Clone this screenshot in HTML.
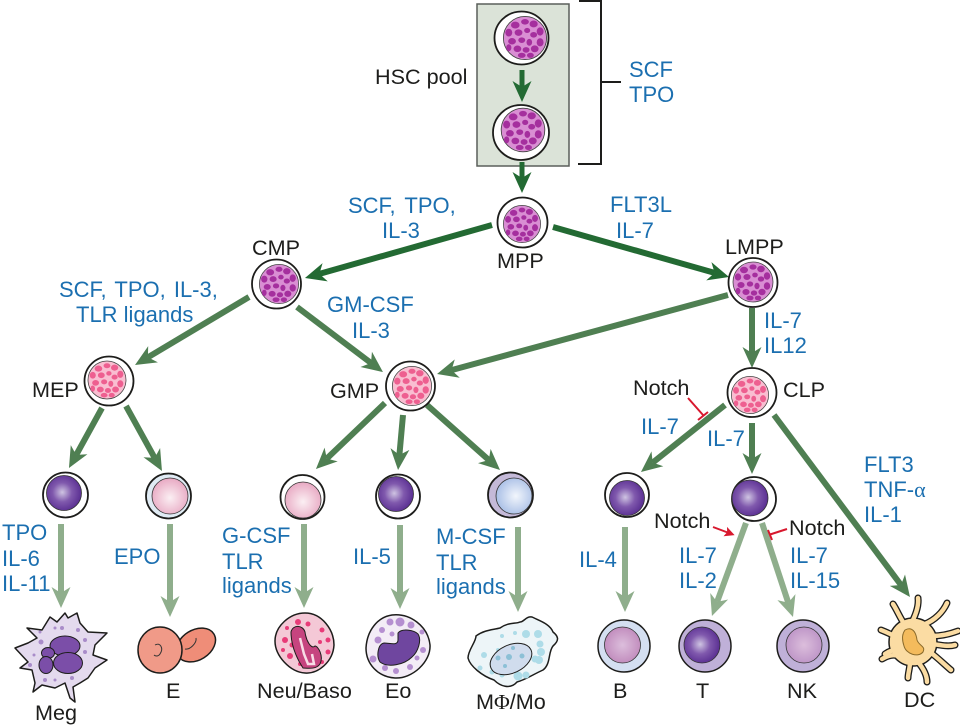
<!DOCTYPE html>
<html><head><meta charset="utf-8"><style>
html,body{margin:0;padding:0;background:#fff}
svg{display:block}
text{font-family:"Liberation Sans",sans-serif;font-size:21.6px;fill:#1d1d1b}
.b text{fill:#1b6fb0;font-size:22px}
</style></head><body>
<svg width="960" height="727" viewBox="0 0 960 727" xmlns="http://www.w3.org/2000/svg">
<defs>
<marker id="hd" markerUnits="userSpaceOnUse" orient="auto" markerWidth="40" markerHeight="40" refX="20" refY="20" viewBox="0 0 40 40"><path d="M14 10.5 L35 20 L14 29.5 L20 20Z" fill="#236a33"/></marker>
<marker id="hm" markerUnits="userSpaceOnUse" orient="auto" markerWidth="40" markerHeight="40" refX="20" refY="20" viewBox="0 0 40 40"><path d="M14 10.5 L35 20 L14 29.5 L20 20Z" fill="#4f7f52"/></marker>
<marker id="hl" markerUnits="userSpaceOnUse" orient="auto" markerWidth="40" markerHeight="40" refX="20" refY="20" viewBox="0 0 40 40"><path d="M14 10.5 L35 20 L14 29.5 L20 20Z" fill="#8fae8c"/></marker>
<marker id="hr" markerUnits="userSpaceOnUse" orient="auto" markerWidth="16" markerHeight="16" refX="8" refY="8" viewBox="0 0 16 16"><path d="M4 3 L14 8 L4 13 L6 8Z" fill="#d8182e"/></marker>
<g id="dots">
<ellipse cx="-9" cy="-12" rx="4" ry="3.2"/><ellipse cx="0" cy="-15" rx="3.6" ry="2.6"/><ellipse cx="8" cy="-13" rx="3.8" ry="3.2"/><ellipse cx="14" cy="-6" rx="3.2" ry="3.8"/><ellipse cx="-15" cy="-5" rx="3.2" ry="3.6"/><ellipse cx="-6" cy="-5" rx="3.6" ry="3"/><ellipse cx="2" cy="-7" rx="2.8" ry="2.4"/><ellipse cx="8" cy="-3" rx="3.2" ry="2.6"/><ellipse cx="-12" cy="3" rx="3.6" ry="3"/><ellipse cx="-3" cy="2" rx="3.2" ry="2.6"/><ellipse cx="4" cy="4" rx="2.6" ry="3.2"/><ellipse cx="14" cy="4" rx="3.2" ry="3.8"/><ellipse cx="-15" cy="9" rx="2.4" ry="3.2"/><ellipse cx="-7" cy="10" rx="3.6" ry="3"/><ellipse cx="1" cy="11" rx="3.2" ry="2.6"/><ellipse cx="9" cy="10" rx="3.6" ry="3.2"/><ellipse cx="-3" cy="16" rx="3.6" ry="2.4"/><ellipse cx="5" cy="16" rx="3.2" ry="2.4"/>
</g>
<radialGradient id="gv" cx=".45" cy=".48" r=".55"><stop offset="0" stop-color="#cfc4e2"/><stop offset=".5" stop-color="#8059ad"/><stop offset="1" stop-color="#5a2f92"/></radialGradient>
<radialGradient id="gp" cx=".5" cy=".55" r=".55"><stop offset="0" stop-color="#fbeff3"/><stop offset="1" stop-color="#e8a9c3"/></radialGradient>
<radialGradient id="gb" cx=".55" cy=".5" r=".55"><stop offset="0" stop-color="#f2f6fc"/><stop offset="1" stop-color="#a9bfe6"/></radialGradient>
<radialGradient id="gm" cx=".5" cy=".5" r=".6"><stop offset="0" stop-color="#dcbedc"/><stop offset="1" stop-color="#bd84b8"/></radialGradient>
<radialGradient id="gm2" cx=".5" cy=".5" r=".6"><stop offset="0" stop-color="#dcbedc"/><stop offset="1" stop-color="#b98fc4"/></radialGradient>
<g id="mag"><circle r="20" fill="#d98ed3" stroke="#444" stroke-width=".8"/><use href="#dots" fill="#a52f9e"/></g>
<g id="pnk"><circle r="20" fill="#f9bed1" stroke="#444" stroke-width=".8"/><use href="#dots" fill="#ee5f90"/></g>
<g id="dcarms" fill="none">
<path d="M905 625C900 618 897 610 893 604"/><path d="M912 622C916 614 919 606 918 598"/><path d="M925 624C935 620 943 612 947 603"/><path d="M932 636C942 636 950 634 958 631"/><path d="M932 644C940 645 948 647 955 645"/><path d="M930 652C938 658 945 665 951 670"/><path d="M918 662C923 668 927 675 927 682"/><path d="M910 662C910 668 908 673 908 678"/><path d="M898 656C893 654 887 656 882 659"/><path d="M896 637C891 634 886 632 881 630"/><path d="M896 650C892 650 888 652 885 654"/>
</g>
</defs>

<!-- HSC pool -->
<rect x="477" y="4" width="92" height="162" fill="#dbe3d8" stroke="#5a5f5a" stroke-width="1.5"/>
<ellipse cx="521.5" cy="38" rx="27" ry="26.5" fill="#fff" stroke="#1d1d1b" stroke-width="1.8"/>
<use href="#mag" transform="translate(525,38) scale(1.08)"/>
<ellipse cx="521" cy="132.5" rx="28" ry="27.5" fill="#fff" stroke="#1d1d1b" stroke-width="1.8"/>
<use href="#mag" transform="translate(523,130) scale(1.09)"/>

<path d="M579 1H601V164H578M601 82H621" fill="none" stroke="#1d1d1b" stroke-width="2"/>

<!-- dark arrows -->
<g fill="none" stroke="#236a33" stroke-width="6">
<path d="M522 70V87" stroke-width="5" marker-end="url(#hd)"/>
<path d="M522 162V178" stroke-width="5" marker-end="url(#hd)"/>
<path d="M492 225L319.4 273.9" marker-end="url(#hd)"/>
<path d="M553 227L714.6 272.9" marker-end="url(#hd)"/>
</g>
<!-- mid arrows -->
<g fill="none" stroke="#4f7f52" stroke-width="6">
<path d="M728 295L451.5 370.1" marker-end="url(#hm)"/>
<path d="M249 297L147.9 357.3" marker-end="url(#hm)"/>
<path d="M297 307L371 363" marker-end="url(#hm)"/>
<path d="M102 408L76.2 454.9" marker-end="url(#hm)"/>
<path d="M126 406L154.7 457.9" marker-end="url(#hm)"/>
<path d="M385 403L326.8 458.6" marker-end="url(#hm)"/>
<path d="M403 415L399.4 455" marker-end="url(#hm)"/>
<path d="M427 405L488.8 460" marker-end="url(#hm)"/>
<path d="M752 308V353" marker-end="url(#hm)"/>
<path d="M725 405L652.7 462.6" marker-end="url(#hm)"/>
<path d="M752 423V459" marker-end="url(#hm)"/>
<path d="M774 415L901 585" marker-end="url(#hm)"/>
</g>
<!-- light arrows -->
<g fill="none" stroke="#8fae8c" stroke-width="6">
<path d="M61 524V593" marker-end="url(#hl)"/>
<path d="M170 524V602" marker-end="url(#hl)"/>
<path d="M304 524V593" marker-end="url(#hl)"/>
<path d="M400 525V594" marker-end="url(#hl)"/>
<path d="M518 527V597" marker-end="url(#hl)"/>
<path d="M625 527V597" marker-end="url(#hl)"/>
<path d="M746 523L717.1 601.9" marker-end="url(#hl)"/>
<path d="M762 523L788.3 602.8" marker-end="url(#hl)"/>
</g>
<!-- red -->
<g fill="none" stroke="#d8182e" stroke-width="2">
<path d="M688 398L703 415M698 420L708 412"/>
<path d="M713 527L729 533" marker-end="url(#hr)"/>
<path d="M787 529L770 534.5M768 530L772 540"/>
</g>

<!-- progenitor cells -->
<circle cx="522.5" cy="222.5" r="25" fill="#fff" stroke="#1d1d1b" stroke-width="1.8"/><use href="#mag" transform="translate(522,224) scale(.93)"/>
<circle cx="276.5" cy="284" r="24.5" fill="#fff" stroke="#1d1d1b" stroke-width="1.8"/><use href="#mag" transform="translate(279,284) scale(.98)"/>
<circle cx="753" cy="282.5" r="24.5" fill="#fff" stroke="#1d1d1b" stroke-width="1.8"/><use href="#mag" transform="translate(753,282) scale(1)"/>
<circle cx="109" cy="381" r="24.5" fill="#fff" stroke="#1d1d1b" stroke-width="1.8"/><use href="#pnk" transform="translate(107,380) scale(.95)"/>
<circle cx="410.5" cy="386" r="24.5" fill="#fff" stroke="#1d1d1b" stroke-width="1.8"/><use href="#pnk" transform="translate(412,386) scale(.98)"/>
<circle cx="752" cy="392.5" r="24.5" fill="#fff" stroke="#1d1d1b" stroke-width="1.8"/><use href="#pnk" transform="translate(750,395) scale(.93)"/>

<circle cx="65.5" cy="495" r="22.5" fill="#fff" stroke="#1d1d1b" stroke-width="1.8"/><circle cx="64" cy="493" r="17.5" fill="url(#gv)" stroke="#333" stroke-width=".8"/>
<circle cx="168.5" cy="496" r="22.5" fill="#e0ebf4" stroke="#1d1d1b" stroke-width="1.8"/><circle cx="170" cy="496" r="18" fill="url(#gp)" stroke="#333" stroke-width=".8"/>
<circle cx="302.5" cy="497" r="22" fill="#fff" stroke="#1d1d1b" stroke-width="1.8"/><circle cx="303" cy="500" r="18" fill="url(#gp)" stroke="#333" stroke-width=".8"/>
<circle cx="398" cy="496.5" r="22" fill="#fff" stroke="#1d1d1b" stroke-width="1.8"/><circle cx="396" cy="494" r="17.5" fill="url(#gv)" stroke="#333" stroke-width=".8"/>
<circle cx="510.5" cy="495" r="22.5" fill="#c4b9d8" stroke="#1d1d1b" stroke-width="1.8"/><circle cx="514" cy="496" r="18" fill="url(#gb)" stroke="#333" stroke-width=".8"/>
<circle cx="627" cy="495" r="22" fill="#fff" stroke="#1d1d1b" stroke-width="1.8"/><circle cx="627" cy="498" r="17.5" fill="url(#gv)" stroke="#333" stroke-width=".8"/>
<circle cx="754" cy="499" r="22" fill="#fff" stroke="#1d1d1b" stroke-width="1.8"/><circle cx="750" cy="498" r="18" fill="url(#gv)" stroke="#333" stroke-width=".8"/>

<!-- Meg -->
<path d="M27 628L42 630L50 617L57 622L65 613L68 618L77 613L80 623L88 632L107 633L95 645L93 655L107 660L95 668L88 678L80 683L73 687L75 702L70 698L65 683L55 688L42 685L33 692L35 683L32 670L20 668L28 662L15 648L28 643L37 638Z" fill="#e4daee" stroke="#1d1d1b" stroke-width="1.5" stroke-linejoin="round"/>
<g fill="#a98cc9"><circle cx="40" cy="632" r="1.5"/><circle cx="41" cy="642" r="2.5"/><circle cx="55" cy="628" r="1.5"/><circle cx="78" cy="630" r="2"/><circle cx="85" cy="640" r="2"/><circle cx="85" cy="652" r="2"/><circle cx="30" cy="665" r="2"/><circle cx="34" cy="655" r="1.5"/><circle cx="45" cy="680" r="2"/><circle cx="55" cy="680" r="1.5"/><circle cx="72" cy="678" r="2"/><circle cx="80" cy="665" r="2"/><circle cx="62" cy="628" r="2"/></g>
<g fill="#7b4ea8" stroke="#1d1d1b" stroke-width="1"><ellipse cx="65" cy="646" rx="15" ry="10"/><ellipse cx="48" cy="653" rx="6.5" ry="5.5"/><ellipse cx="46" cy="665" rx="7" ry="8.5"/><ellipse cx="68" cy="663" rx="14.5" ry="10.5"/></g>

<!-- E -->
<ellipse cx="196" cy="645" rx="21" ry="15" transform="rotate(-32 196 645)" fill="#ef8d78" stroke="#1d1d1b" stroke-width="1.5"/>
<path d="M185 649C190 650 197 643 196 638" fill="none" stroke="#333"/>
<ellipse cx="160" cy="650" rx="22" ry="23" fill="#f09a88" stroke="#1d1d1b" stroke-width="1.5"/>
<path d="M155 645C160 642 164 648 160 654C158 657 155 656 154 655" fill="none" stroke="#333"/>

<!-- Neu -->
<path d="M305 613C322 613 334 630 334 645C333 662 318 674 305 673C290 672 275 656 275 641C275 626 290 613 305 613Z" fill="#f4c8d6" stroke="#1d1d1b" stroke-width="1.5"/>
<g fill="#e83b78"><circle cx="298" cy="622" r="3"/><circle cx="308" cy="624" r="2.5"/><circle cx="287" cy="628" r="2"/><circle cx="285" cy="640" r="3"/><circle cx="292" cy="645" r="2.5"/><circle cx="283" cy="650" r="2"/><circle cx="290" cy="656" r="3"/><circle cx="322" cy="630" r="2.5"/><circle cx="328" cy="640" r="2.5"/><circle cx="320" cy="642" r="2"/><circle cx="328" cy="652" r="2.5"/><circle cx="322" cy="662" r="2"/><circle cx="300" cy="664" r="2"/></g>
<path d="M291 632C293 624 303 625 305 632C306 640 311 650 315 646C318 646 324 656 320 664C316 670 306 668 303 668C299 662 291 648 291 632Z" fill="#c6447f" stroke="#1d1d1b"/>
<path d="M300 638L304 654L308 664L314 664L312 654" fill="none" stroke="#f8dce6" stroke-width="2.5"/>

<!-- Eo -->
<path d="M392 615C410 613 428 626 430 645C431 662 412 679 395 678C378 677 366 664 366 648C367 630 378 617 392 615Z" fill="#f3ecf6" stroke="#1d1d1b" stroke-width="1.5"/>
<g fill="#b58fd0"><circle cx="390" cy="622" r="3.5"/><circle cx="400" cy="622" r="4.5"/><circle cx="411" cy="625" r="3.5"/><circle cx="382" cy="630" r="3"/><circle cx="378" cy="640" r="3.5"/><circle cx="392" cy="634" r="2.5"/><circle cx="422" cy="632" r="2.5"/><circle cx="423" cy="650" r="3"/><circle cx="373" cy="659" r="3.5"/><circle cx="385" cy="668" r="3"/><circle cx="396" cy="671" r="3"/><circle cx="410" cy="667" r="3"/><circle cx="417" cy="658" r="2.5"/></g>
<path d="M398 633C402 628 414 630 418 634C422 640 418 652 412 657C404 665 388 668 380 662C376 656 378 644 384 643C390 643 398 646 398 640Z" fill="#6f469f" stroke="#1d1d1b"/>

<!-- MΦ -->
<path d="M500 628C508 622 516 624 520 622C524 622 526 616 532 617C540 621 550 624 553 632C558 636 560 640 553 646C548 652 551 664 543 670C534 674 525 680 517 682C510 690 500 686 494 680C482 676 470 666 468 658C468 650 476 642 476 636C484 630 492 630 500 628Z" fill="#edf5f8" stroke="#1d1d1b" stroke-width="1.5"/>
<g fill="#aedce8"><circle cx="515" cy="633" r="2"/><circle cx="502" cy="636" r="2"/><circle cx="526" cy="634" r="4"/><circle cx="538" cy="634" r="4"/><circle cx="540" cy="644" r="3.5"/><circle cx="541" cy="652" r="4"/><circle cx="535" cy="659" r="3.5"/><circle cx="539" cy="660" r="4"/><circle cx="484" cy="655" r="3"/><circle cx="480" cy="668" r="2.5"/><circle cx="492" cy="672" r="2.5"/><circle cx="518" cy="676" r="4.5"/><circle cx="502" cy="675" r="2.5"/><circle cx="526" cy="675" r="3.5"/><circle cx="498" cy="650" r="2"/></g>
<ellipse cx="511" cy="659" rx="22" ry="14" transform="rotate(-25 511 659)" fill="#d0dced" stroke="#1d1d1b"/>
<g fill="#8cc0d6"><circle cx="498" cy="658" r="2.5"/><circle cx="509" cy="657" r="3"/><circle cx="522" cy="656" r="2.5"/><circle cx="513" cy="648" r="2"/><circle cx="505" cy="666" r="2"/></g>

<!-- B T NK -->
<circle cx="624" cy="646" r="26" fill="#d4dff1" stroke="#1d1d1b" stroke-width="1.5"/><circle cx="622.5" cy="645" r="18" fill="url(#gm)" stroke="#333" stroke-width=".8"/>
<circle cx="705" cy="646" r="26" fill="#bfb0d8" stroke="#1d1d1b" stroke-width="1.5"/><circle cx="702" cy="645" r="18" fill="url(#gv)" stroke="#333" stroke-width=".8"/>
<circle cx="803" cy="646" r="26" fill="#bfb0d8" stroke="#1d1d1b" stroke-width="1.5"/><circle cx="804" cy="645" r="18" fill="url(#gm2)" stroke="#333" stroke-width=".8"/>

<!-- DC -->
<use href="#dcarms" stroke="#1d1d1b" stroke-width="7" stroke-linecap="round"/>
<circle cx="913" cy="642" r="24" fill="#fbdca3" stroke="#1d1d1b" stroke-width="1.5"/>
<use href="#dcarms" stroke="#fbdca3" stroke-width="4.4" stroke-linecap="round"/>
<path d="M905 630C912 626 916 632 917 640C919 646 926 646 923 652C918 658 906 654 904 646C902 640 902 634 905 630Z" fill="#f4bb5c" stroke="#8a6a2a" stroke-width="1"/>

<!-- black labels -->
<text x="375" y="84">HSC pool</text>
<text x="497" y="268">MPP</text>
<text x="252" y="255">CMP</text>
<text x="725" y="254">LMPP</text>
<text x="32" y="397">MEP</text>
<text x="330" y="398">GMP</text>
<text x="783" y="397">CLP</text>
<text x="633" y="395">Notch</text>
<text x="654" y="528">Notch</text>
<text x="789" y="535">Notch</text>
<text x="35" y="720">Meg</text>
<text x="166" y="698">E</text>
<text x="257" y="698">Neu/Baso</text>
<text x="385" y="698">Eo</text>
<text x="476" y="709">M<tspan font-family="Liberation Serif">Φ</tspan>/Mo</text>
<text x="613" y="698">B</text>
<text x="696" y="698">T</text>
<text x="787" y="698">NK</text>
<text x="904" y="707">DC</text>

<!-- blue labels -->
<g class="b">
<text x="629" y="77">SCF</text><text x="629" y="102">TPO</text>
<text x="348" y="213" word-spacing="3">SCF, TPO,</text><text x="382" y="238">IL-3</text>
<text x="610" y="212">FLT3L</text><text x="616" y="238">IL-7</text>
<text x="59" y="297" word-spacing="2">SCF, TPO, IL-3,</text><text x="76" y="322">TLR ligands</text>
<text x="327" y="312">GM-CSF</text><text x="352" y="338">IL-3</text>
<text x="764" y="328">IL-7</text><text x="764" y="353">IL12</text>
<text x="641" y="434">IL-7</text><text x="707" y="446">IL-7</text>
<text x="864" y="472">FLT3</text><text x="864" y="497">TNF-<tspan font-family="Liberation Serif">α</tspan></text><text x="864" y="522">IL-1</text>
<text x="679" y="563">IL-7</text><text x="679" y="588">IL-2</text>
<text x="790" y="563">IL-7</text><text x="790" y="588">IL-15</text>
<text x="2" y="540">TPO</text><text x="2" y="566">IL-6</text><text x="2" y="591">IL-11</text>
<text x="114" y="564">EPO</text>
<text x="222" y="543">G-CSF</text><text x="222" y="569">TLR</text><text x="222" y="593">ligands</text>
<text x="353" y="564">IL-5</text>
<text x="436" y="544">M-CSF</text><text x="436" y="570">TLR</text><text x="436" y="594">ligands</text>
<text x="579" y="567">IL-4</text>
</g>
</svg>
</body></html>
